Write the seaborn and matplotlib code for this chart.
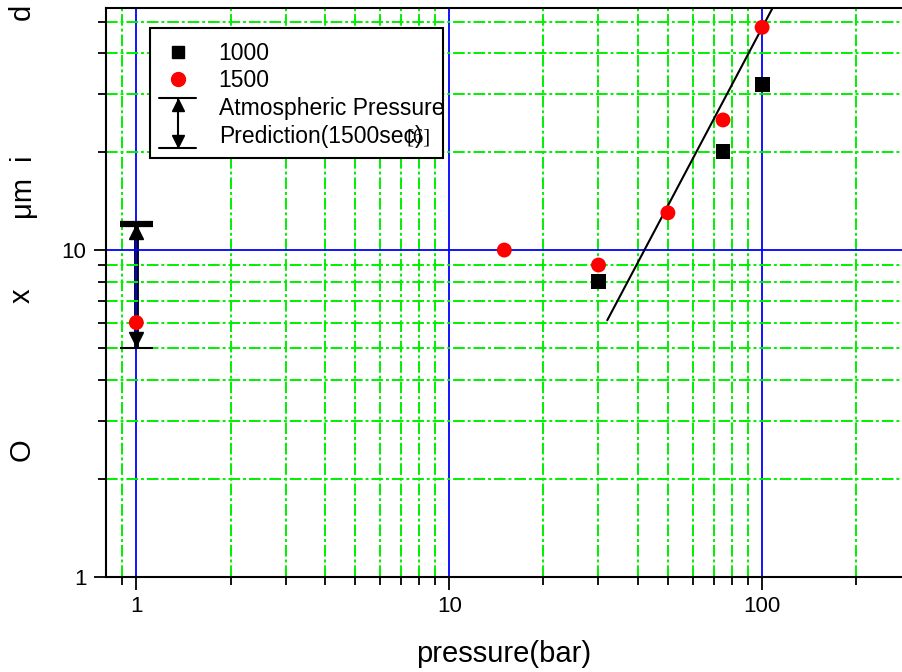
import numpy as np
import pandas as pd
import matplotlib
matplotlib.use("Agg")
import matplotlib.pyplot as plt
import seaborn as sns
from matplotlib.lines import Line2D
from matplotlib.patches import Rectangle
from matplotlib.legend_handler import HandlerBase
from matplotlib.ticker import FixedLocator, NullFormatter

# ------------------------------------------------------------
# Data
# ------------------------------------------------------------
p_1000 = [30, 75, 100]
d_1000 = [8.0, 20.0, 32.0]

p_1500 = [1, 15, 30, 50, 75, 100]
d_1500 = [6.0, 10.0, 9.0, 13.0, 25.0, 48.0]

fit_p = [32, 108]
fit_d = [6.1, 55.0]

atm_p = 1
atm_low, atm_high = 5.0, 12.0

x_major = [1, 10, 100]
x_minor = [0.9, 2, 3, 4, 5, 6, 7, 8, 9, 20, 30, 40, 50, 60, 70, 80, 90, 200]
y_major = [1, 10]
y_minor = [2, 3, 4, 5, 6, 7, 8, 9, 20, 30, 40, 50]

df = pd.DataFrame({
    'pressure': p_1000 + p_1500,
    'size': d_1000 + d_1500,
    'series': ['1000'] * len(p_1000) + ['1500'] * len(p_1500),
})

sns.set_style("white")
plt.rcParams['font.family'] = ['Liberation Sans', 'DejaVu Sans']
plt.rcParams['text.color'] = 'black'
plt.rcParams['axes.labelcolor'] = 'black'
plt.rcParams['xtick.color'] = 'black'
plt.rcParams['ytick.color'] = 'black'

W, H = 902, 672
fig = plt.figure(figsize=(W / 100, H / 100), dpi=100)
ax = fig.add_axes([106 / W, 1 - 577 / H, (W - 106) / W, (577 - 8) / H])

ax.set_xscale('log')
ax.set_yscale('log')
ax.set_xlim(0.8, 280)
ax.set_ylim(1, 55)

# grid
ax.set_axisbelow(True)
ax.xaxis.set_major_locator(FixedLocator(x_major))
ax.xaxis.set_minor_locator(FixedLocator(x_minor))
ax.yaxis.set_major_locator(FixedLocator(y_major))
ax.yaxis.set_minor_locator(FixedLocator(y_minor))
ax.xaxis.set_minor_formatter(NullFormatter())
ax.yaxis.set_minor_formatter(NullFormatter())
ax.set_xticklabels([str(v) for v in x_major])
ax.set_yticklabels([str(v) for v in y_major])
ax.grid(which='major', color='#0000ff', linestyle='-', linewidth=1.3)
ax.grid(which='minor', color='#00f000', linestyle=(0, (6, 1.5, 1.5, 1.5)), linewidth=1.4)

# atmospheric pressure prediction bar
ax.vlines(atm_p, atm_low, atm_high, color='black', linewidth=3.5, zorder=0.4)
ax.plot([atm_p / 1.13, atm_p * 1.13], [atm_high, atm_high], color='black', lw=4.5, solid_capstyle='butt')
ax.plot([atm_p / 1.13, atm_p * 1.13], [atm_low, atm_low], color='black', lw=1.5, solid_capstyle='butt')
ax.plot([atm_p], [atm_high / 1.06], marker='^', color='black', ms=10, lw=0)
ax.plot([atm_p], [atm_low * 1.07], marker='v', color='black', ms=10, lw=0)

# fit line
ax.plot(fit_p, fit_d, color='black', linewidth=1.5)

sns.scatterplot(
    data=df, x='pressure', y='size', hue='series', style='series',
    markers={'1000': 's', '1500': 'o'},
    palette={'1000': 'black', '1500': 'red'},
    s=115, linewidth=0, legend=False, ax=ax, zorder=5, clip_on=False
)

ax.set_xlabel('pressure(bar)', fontsize=21, labelpad=16)
ax.set_ylabel('')

for side in ['left', 'bottom', 'top']:
    ax.spines[side].set_color('black')
    ax.spines[side].set_linewidth(1.5)
ax.spines['right'].set_visible(False)
ax.tick_params(which='major', direction='out', length=9, width=1.3, labelsize=16,
               bottom=True, left=True, top=False, right=False, pad=5)
ax.tick_params(which='minor', direction='out', length=6, width=1.3,
               bottom=True, left=True, top=False, right=False)


# legend with a custom arrow-bar symbol
class ArrowBarHandler(HandlerBase):
    def create_artists(self, legend, orig_handle, xdescent, ydescent,
                       width, height, fontsize, trans):
        xc = 0.5 * width - xdescent
        yc = 0.5 * height - ydescent
        half = 18
        cap = 13
        arts = [
            Line2D([xc, xc], [yc - half, yc + half], color='black', lw=1.5),
            Line2D([xc - cap, xc + cap], [yc + half, yc + half], color='black', lw=1.5),
            Line2D([xc - cap, xc + cap], [yc - half, yc - half], color='black', lw=1.5),
            Line2D([xc], [yc + half - 5], marker='^', color='black', ms=8, lw=0),
            Line2D([xc], [yc - half + 5], marker='v', color='black', ms=8, lw=0),
        ]
        for a in arts:
            a.set_transform(trans)
        return arts


# legend frame: the text runs past its right edge in the reference
frame = Rectangle((150 / W, 1 - 158 / H), (443 - 150) / W, (158 - 28) / H,
                  transform=fig.transFigure, facecolor='white', edgecolor='black',
                  linewidth=1.5, zorder=9, clip_on=False)
ax.add_patch(frame)

h_sq = Line2D([], [], marker='s', color='black', lw=0, ms=9)
h_ci = Line2D([], [], marker='o', color='red', lw=0, ms=10)
h_bar = object()
leg = ax.legend(
    [h_sq, h_ci, h_bar],
    ['1000', '1500', 'Atmospheric Pressure\nPrediction(1500sec)'],
    handler_map={object: ArrowBarHandler()},
    loc='upper left', bbox_to_anchor=((150 - 106) / (W - 106), (577 - 28) / 569),
    prop={'size': 16.5}, frameon=False,
    borderpad=0.6, handlelength=1.2, handletextpad=1.2, labelspacing=0.2,
    borderaxespad=0,
)
for t in leg.get_texts():
    t.set_linespacing(1.28)
leg.set_zorder(10)

fig.text(419 / W, 1 - 138 / H, '[6]', fontsize=15, family=['Liberation Serif', 'DejaVu Serif'],
         ha='center', va='center', zorder=11)

# rotated y-axis label pieces
for txt, ypix in [('O', 450), ('x', 296), ('μm', 196), ('i', 157), ('d', 12)]:
    fig.text(22 / W, 1 - ypix / H, txt, rotation=90, fontsize=21, ha='center', va='center')

fig.savefig('out.png', dpi=100)
plt.close(fig)
